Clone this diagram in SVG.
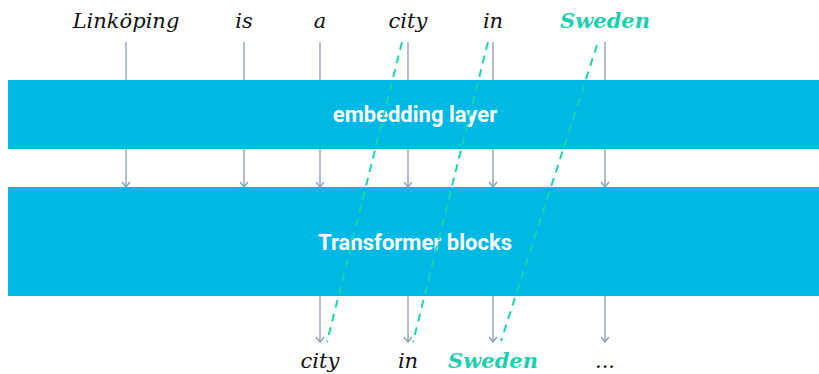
<svg xmlns="http://www.w3.org/2000/svg" width="819" height="374" viewBox="0 0 819 374">
  <style>
    .word { font-family: "DejaVu Serif", "Liberation Serif", serif; font-style: italic; font-size: 21px; fill: #111; text-anchor: middle; }
    .hl { fill: #1ccfae; font-weight: bold; }
    .layer { fill: #00b8e4; }
    .label { font-family: "Roboto", "Open Sans", sans-serif; font-weight: bold; font-size: 22px; fill: #fff; text-anchor: middle; }
    .flow { stroke: #8a9bb0; stroke-width: 1.3; fill: none; }
    .shift { stroke: #1dd3b0; stroke-width: 2; stroke-dasharray: 8 6; fill: none; }
  </style>
  <defs>
    <marker id="tip" viewBox="0 0 10 10" refX="9" refY="5" markerWidth="10" markerHeight="10" markerUnits="userSpaceOnUse" orient="auto">
      <path d="M4 1 L9 5 L4 9" fill="none" stroke="#8a9bb0" stroke-width="1.3"/>
    </marker>
  </defs>

  <!-- input tokens -->
  <g id="inputs">
    <text class="word" x="126" y="28">Linköping</text>
    <text class="word" x="244" y="28">is</text>
    <text class="word" x="320" y="28">a</text>
    <text class="word" x="408" y="28">city</text>
    <text class="word" x="493" y="28">in</text>
    <text class="word hl" x="605" y="28">Sweden</text>
  </g>

  <!-- layers -->
  <g id="embedding">
    <rect class="layer" x="8" y="80" width="811" height="69"/>
    <text class="label" x="415" y="122">embedding layer</text>
  </g>
  <g id="transformer">
    <rect class="layer" x="8" y="187" width="811" height="109"/>
    <text class="label" x="415" y="250">Transformer blocks</text>
  </g>

  <!-- connectors -->
  <g id="connectors">
    <path class="flow" d="M126 42V80M244 42V80M320 42V80M408 42V80M493 42V80M605 42V80"/>
    <g class="flow" marker-end="url(#tip)">
      <path d="M126 149V187"/>
      <path d="M244 149V187"/>
      <path d="M320 149V187"/>
      <path d="M408 149V187"/>
      <path d="M493 149V187"/>
      <path d="M605 149V187"/>
      <path d="M320 296V342"/>
      <path d="M408 296V342"/>
      <path d="M493 296V342"/>
      <path d="M605 296V342"/>
    </g>
    <path class="shift" d="M402 42L327 342"/>
    <path class="shift" d="M488 42L413 342"/>
    <path class="shift" d="M597 45L501 341"/>
  </g>

  <!-- output tokens -->
  <g id="outputs">
    <text class="word" x="320" y="368">city</text>
    <text class="word" x="408" y="368">in</text>
    <text class="word hl" x="493" y="368">Sweden</text>
    <text class="word" x="605" y="368">...</text>
  </g>
</svg>
